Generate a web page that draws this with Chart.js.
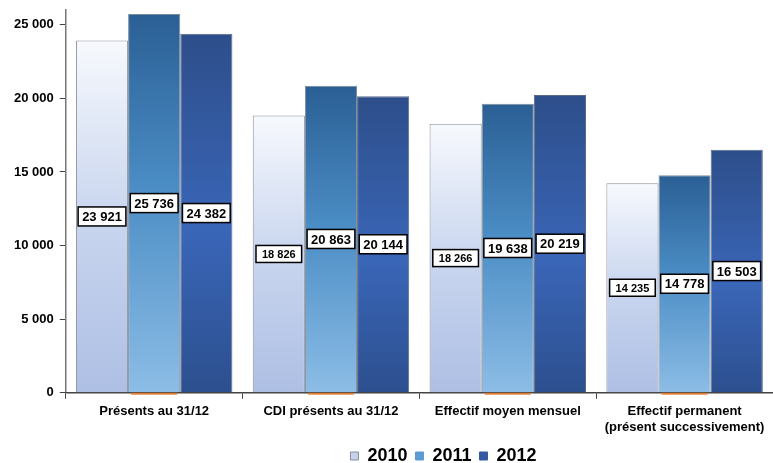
<!DOCTYPE html>
<html lang="fr">
<head>
    <meta charset="UTF-8">
    <title>Effectifs 2010-2012</title>
    <script src="https://cdn.jsdelivr.net/npm/chart.js@4.4.0/dist/chart.umd.min.js"></script>
    <style>
        html, body { margin: 0; padding: 0; background: #ffffff; }
        #wrap { width: 773px; height: 463px; }
    </style>
</head>
<body>
    <div id="wrap"><canvas id="chart"></canvas></div>

    <script>
        const categories = [
            'Présents au 31/12',
            'CDI présents au 31/12',
            'Effectif moyen mensuel',
            ['Effectif permanent', '(présent successivement)']
        ];
        const years = ['2010', '2011', '2012'];
        const values2010 = [23921, 18826, 18266, 14235];
        const values2011 = [25736, 20863, 19638, 14778];
        const values2012 = [24382, 20144, 20219, 16503];
        const yTicks = [0, 5000, 10000, 15000, 20000, 25000];

        function fmt(n) {
            return String(n).replace(/\B(?=(\d{3})+(?!\d))/g, ' ');
        }

        // gradient per bar, from bar top down to the base
        function barGradient(stops) {
            return function (ctx) {
                const chart = ctx.chart;
                if (!chart.chartArea || ctx.type !== 'data') return stops[stops.length - 1][1];
                const y = chart.scales.y;
                const top = y.getPixelForValue(ctx.raw);
                const base = y.getPixelForValue(0);
                const g = chart.ctx.createLinearGradient(0, top, 0, base);
                stops.forEach(s => g.addColorStop(s[0], s[1]));
                return g;
            };
        }

        const fill2010 = barGradient([[0, '#f7f9fd'], [0.5, '#c9d6ef'], [1, '#aebfe4']]);
        const fill2011 = barGradient([[0, '#2a5f94'], [0.45, '#4a8cc4'], [1, '#8cbde6']]);
        const fill2012 = barGradient([[0, '#2d4e8a'], [0.55, '#3a66b8'], [1, '#2c4f8e']]);

        // legend sits a little right of centre
        const moveLegend = {
            id: 'moveLegend',
            afterLayout(chart) {
                const lg = chart.legend;
                lg.left += 53; lg.right += 53;
                lg.top -= 1; lg.bottom -= 1;
            }
        };

        const valueLabels = {
            id: 'valueLabels',
            afterDatasetsDraw(chart) {
                const c = chart.ctx;
                chart.data.datasets.forEach((ds, di) => {
                    chart.getDatasetMeta(di).data.forEach((bar, i) => {
                        const small = di === 0 && i > 0;
                        const text = fmt(ds.data[i]);
                        c.save();
                        c.font = 'bold ' + (small ? 11 : 13) + 'px Arial, "Liberation Sans", sans-serif';
                        const w = c.measureText(text).width + (small ? 12 : 8);
                        const h = small ? 17 : 19;
                        const cx = bar.x;
                        const cy = (bar.y + bar.base) / 2;
                        c.fillStyle = '#ffffff';
                        c.fillRect(cx - w / 2, cy - h / 2, w, h);
                        c.lineWidth = 1.5;
                        c.strokeStyle = '#000000';
                        c.strokeRect(cx - w / 2, cy - h / 2, w, h);
                        c.fillStyle = '#000000';
                        c.textAlign = 'center';
                        c.textBaseline = 'middle';
                        c.fillText(text, cx, cy + 1);
                        c.restore();
                    });
                });
                // orange glow under the 2011 bars
                c.save();
                chart.getDatasetMeta(1).data.forEach(bar => {
                    c.strokeStyle = 'rgba(232,119,34,0.85)';
                    c.lineWidth = 2;
                    c.beginPath();
                    c.moveTo(bar.x - bar.width / 2 + 3, bar.base + 1.5);
                    c.lineTo(bar.x + bar.width / 2 - 3, bar.base + 1.5);
                    c.stroke();
                });
                c.restore();
            }
        };

        const ctx = document.getElementById('chart').getContext('2d');
        new Chart(ctx, {
            type: 'bar',
            data: {
                labels: categories,
                datasets: [
                    { label: years[0], data: values2010, backgroundColor: fill2010, borderColor: '#8a8f99', borderWidth: 1 },
                    { label: years[1], data: values2011, backgroundColor: fill2011, borderColor: '#7d8a99', borderWidth: 1 },
                    { label: years[2], data: values2012, backgroundColor: fill2012, borderColor: '#5a6a88', borderWidth: 1 }
                ]
            },
            options: {
                responsive: true,
                maintainAspectRatio: false,
                animation: false,
                layout: { padding: { left: 8, right: 0, top: 10, bottom: -13 } },
                datasets: {
                    bar: { categoryPercentage: 0.885, barPercentage: 1.0 }
                },
                scales: {
                    y: {
                        min: 0,
                        max: 26000,
                        afterBuildTicks(scale) {
                            scale.ticks = yTicks.map(v => ({ value: v }));
                        },
                        afterFit(scale) {
                            scale.paddingTop = 0;
                        },
                        border: { display: true, color: '#777777', width: 1.5 },
                        grid: { display: true, drawOnChartArea: false, drawTicks: true, tickLength: 6, color: '#444444' },
                        ticks: {
                            color: '#000000',
                            padding: 6,
                            font: { family: 'Arial, "Liberation Sans", sans-serif', size: 13, weight: 'bold' },
                            callback: v => fmt(v)
                        }
                    },
                    x: {
                        border: { display: true, color: '#444444', width: 1.5 },
                        grid: { display: true, offset: true, drawOnChartArea: false, drawTicks: true, tickLength: 6, color: '#444444' },
                        ticks: {
                            color: '#000000',
                            padding: 5,
                            maxRotation: 0,
                            font: { family: 'Arial, "Liberation Sans", sans-serif', size: 13, weight: 'bold' }
                        }
                    }
                },
                plugins: {
                    legend: {
                        position: 'bottom',
                        labels: {
                            color: '#000000',
                            boxWidth: 8,
                            boxHeight: 8,
                            padding: 8,
                            font: { family: 'Arial, "Liberation Sans", sans-serif', size: 18, weight: 'bold' },
                            generateLabels(chart) {
                                const cols = ['#c4d2ee', '#5d9bd2', '#3559a0'];
                                return chart.data.datasets.map((ds, i) => ({
                                    text: ds.label,
                                    fillStyle: cols[i],
                                    strokeStyle: i === 0 ? '#8a8f99' : cols[i],
                                    lineWidth: 1,
                                    fontColor: '#000000',
                                    datasetIndex: i,
                                    hidden: false
                                }));
                            }
                        }
                    },
                    tooltip: { enabled: false }
                }
            },
            plugins: [valueLabels, moveLegend]
        });
    </script>
</body>
</html>
